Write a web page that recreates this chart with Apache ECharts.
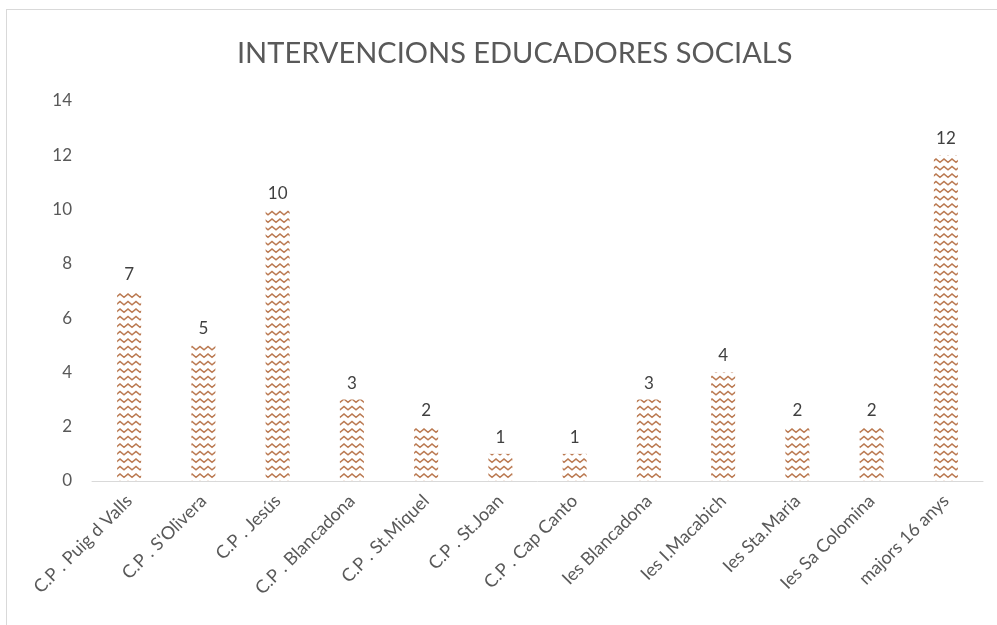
<!DOCTYPE html>
<html>
<head>
<meta charset="utf-8">
<script src="https://cdn.jsdelivr.net/npm/echarts@6/dist/echarts.min.js"></script>
<style>
  html, body { margin: 0; padding: 0; background: #fff; }
  #chart { width: 997px; height: 625px; }
  #frame { position: absolute; left: 6px; top: 9px; width: 1000px; height: 700px; border: 1px solid #d9d9d9; pointer-events: none; }
</style>
</head>
<body>
<div id="chart"></div>
<div id="frame"></div>
<script>
const categories = [
  'C.P . Puig d Valls', 'C.P . S\'Olivera', 'C.P . Jesús', 'C.P . Blancadona',
  'C.P . St.Miquel', 'C.P . St.Joan', 'C.P . Cap Canto', 'Ies Blancadona',
  'Ies I.Macabich', 'Ies Sta.Maria', 'Ies Sa Colomina', 'majors 16 anys'
];
const values = [7, 5, 10, 3, 2, 1, 1, 3, 4, 2, 2, 12];
const yTicks = [0, 2, 4, 6, 8, 10, 12, 14];

// wavy pattern tile for the bars
function makeWave() {
  const c = document.createElement('canvas');
  c.width = 8;
  c.height = 15;
  const ctx = c.getContext('2d');
  ctx.fillStyle = '#ffffff';
  ctx.fillRect(0, 0, 8, 15);
  ctx.strokeStyle = '#bb7a52';
  ctx.lineWidth = 1.4;
  for (const oy of [1.5, 9]) {
    ctx.beginPath();
    ctx.moveTo(-4, oy + 3.4);
    ctx.lineTo(0, oy);
    ctx.lineTo(4, oy + 3.4);
    ctx.lineTo(8, oy);
    ctx.lineTo(12, oy + 3.4);
    ctx.stroke();
  }
  return c;
}

const chart = echarts.init(document.getElementById('chart'));
chart.setOption({
  backgroundColor: '#fff',
  animation: false,
  title: {
    text: 'INTERVENCIONS EDUCADORES SOCIALS',
    left: 232,
    top: 34,
    textStyle: { fontFamily: 'Lato', fontSize: 29, fontWeight: 'normal', color: '#595959' }
  },
  grid: { left: 92, right: 14, top: 101, bottom: 144, containLabel: false },
  xAxis: {
    type: 'category',
    data: categories,
    axisLine: { lineStyle: { color: '#d9d9d9', width: 1 } },
    axisTick: { show: false },
    axisLabel: {
      rotate: 45, interval: 0, margin: 17,
      fontFamily: 'Lato', fontSize: 18, color: '#595959'
    }
  },
  yAxis: {
    type: 'value',
    min: yTicks[0],
    max: yTicks[yTicks.length - 1],
    interval: 2,
    splitLine: { show: false },
    axisLine: { show: false },
    axisTick: { show: false },
    axisLabel: { margin: 20, fontFamily: 'Lato', fontSize: 17, color: '#595959' }
  },
  series: [{
    type: 'bar',
    data: values,
    barWidth: 24,
    itemStyle: { color: { image: makeWave(), repeat: 'repeat' } },
    label: {
      show: true, position: 'top', distance: 8,
      fontFamily: 'Lato', fontSize: 17, color: '#404040'
    }
  }]
});
</script>
</body>
</html>
